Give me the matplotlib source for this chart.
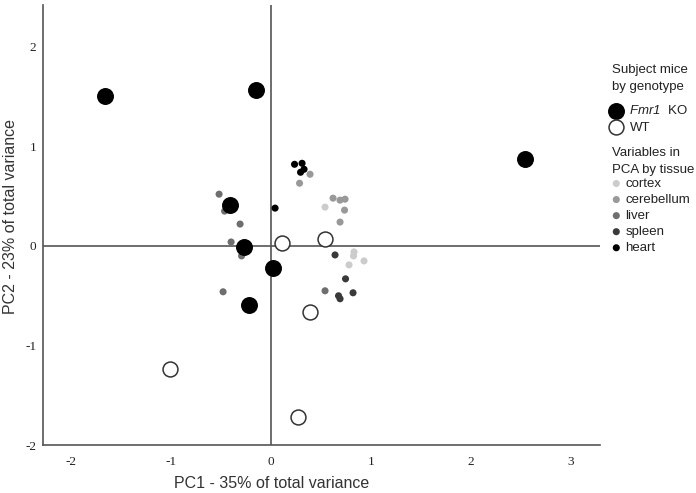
import matplotlib
matplotlib.use("Agg")
import matplotlib.pyplot as plt

plt.rcParams["font.family"] = ["Liberation Sans", "DejaVu Sans"]
plt.rcParams["axes.unicode_minus"] = False
# only the gene name uses mathtext, and it is all italic
plt.rcParams["mathtext.fontset"] = "custom"
plt.rcParams["mathtext.rm"] = "Liberation Sans:italic"
plt.rcParams["mathtext.it"] = "Liberation Sans:italic"

# subject mice scores (PC1, PC2)
ko_x = [-1.665, -0.155, 2.545, -0.415, -0.275, 0.015, -0.225]
ko_y = [1.51, 1.57, 0.87, 0.41, -0.01, -0.22, -0.59]
wt_x = [-1.01, 0.105, 0.535, 0.385, 0.265]
wt_y = [-1.24, 0.03, 0.07, -0.66, -1.72]

# variable loadings by tissue
tissues = ["cortex", "cerebellum", "liver", "spleen", "heart"]
tissue_colors = ["#cccccc", "#999999", "#6e6e6e", "#3a3a3a", "#000000"]
cortex_x = [0.54, 0.83, 0.825, 0.78, 0.93]
cortex_y = [0.39, -0.06, -0.10, -0.19, -0.15]
cerebellum_x = [0.285, 0.39, 0.62, 0.69, 0.74, 0.735, 0.69]
cerebellum_y = [0.63, 0.72, 0.48, 0.46, 0.47, 0.36, 0.24]
liver_x = [-0.52, -0.465, -0.31, -0.40, -0.295, -0.48, 0.54]
liver_y = [0.52, 0.35, 0.22, 0.04, -0.10, -0.46, -0.45]
spleen_x = [0.64, 0.745, 0.82, 0.675, 0.69]
spleen_y = [-0.09, -0.33, -0.47, -0.50, -0.53]
heart_x = [0.235, 0.31, 0.295, 0.33, 0.04]
heart_y = [0.82, 0.83, 0.74, 0.77, 0.38]

xticks = [-2, -1, 0, 1, 2, 3]
yticks = [-2, -1, 0, 1, 2]

fig = plt.figure(figsize=(6.96, 4.93), dpi=100)
ax = fig.add_axes([0.062, 0.097, 0.80, 0.893])

line_col = "#555555"
ax.axhline(0, color=line_col, lw=1.2, zorder=1)
ax.axvline(0, color=line_col, lw=1.2, zorder=1)

tissue_x = [cortex_x, cerebellum_x, liver_x, spleen_x, heart_x]
tissue_y = [cortex_y, cerebellum_y, liver_y, spleen_y, heart_y]
tissue_handles = []
for name, col, xs, ys in zip(tissues, tissue_colors, tissue_x, tissue_y):
    h = ax.scatter(xs, ys, s=26, color=col, edgecolors="none", zorder=3, label=name)
    tissue_handles.append(h)

ko = ax.scatter(ko_x, ko_y, s=125, color="black", edgecolors="black",
                zorder=4, label=r"$\mathrm{Fmr1}$  KO")
wt = ax.scatter(wt_x, wt_y, s=115, facecolors="white", edgecolors="#333333",
                linewidths=1.1, zorder=4, label="WT")

ax.set_xlim(-2.28, 3.29)
ax.set_ylim(-2, 2.42)
ax.set_xticks(xticks)
ax.set_yticks(yticks)
ax.tick_params(length=0, labelsize=9.5, labelcolor="#222222")
ax.tick_params(axis="x", pad=8)
ax.tick_params(axis="y", pad=5)
for lab in ax.get_xticklabels() + ax.get_yticklabels():
    lab.set_family("Liberation Serif")
for side in ["top", "right"]:
    ax.spines[side].set_visible(False)
for side in ["left", "bottom"]:
    ax.spines[side].set_color(line_col)
    ax.spines[side].set_linewidth(1.2)

ax.set_xlabel("PC1 - 35% of total variance", fontsize=11.5, color="#333333")
ax.xaxis.set_label_coords(0.41, -0.07)
ax.set_ylabel("PC2 - 23% of total variance", fontsize=11.5, color="#333333")
ax.yaxis.set_label_coords(-0.045, 0.52)

# legend titles as plain text, entries as untitled legends
leg_x = 0.876
fig.text(0.879, 0.8408, "Subject mice\nby genotype", fontsize=9.5,
         color="#222222", va="center", ha="left", linespacing=1.55)
fig.text(0.879, 0.6724, "Variables in\nPCA by tissue", fontsize=9.5,
         color="#222222", va="center", ha="left", linespacing=1.55)

leg1 = fig.legend(handles=[ko, wt], loc="center left",
                  bbox_to_anchor=(leg_x, 0.7586), frameon=False,
                  fontsize=9.5, borderpad=0, handlelength=1.0,
                  handletextpad=0.5, labelspacing=0.3, borderaxespad=0)
leg2 = fig.legend(handles=tissue_handles, loc="center left",
                  bbox_to_anchor=(leg_x, 0.5619), frameon=False,
                  fontsize=9.5, borderpad=0, handlelength=1.0,
                  handletextpad=0.2, labelspacing=0.29, borderaxespad=0)
for leg in [leg1, leg2]:
    for t in leg.get_texts():
        t.set_color("#222222")

fig.savefig("out.png", dpi=100)
